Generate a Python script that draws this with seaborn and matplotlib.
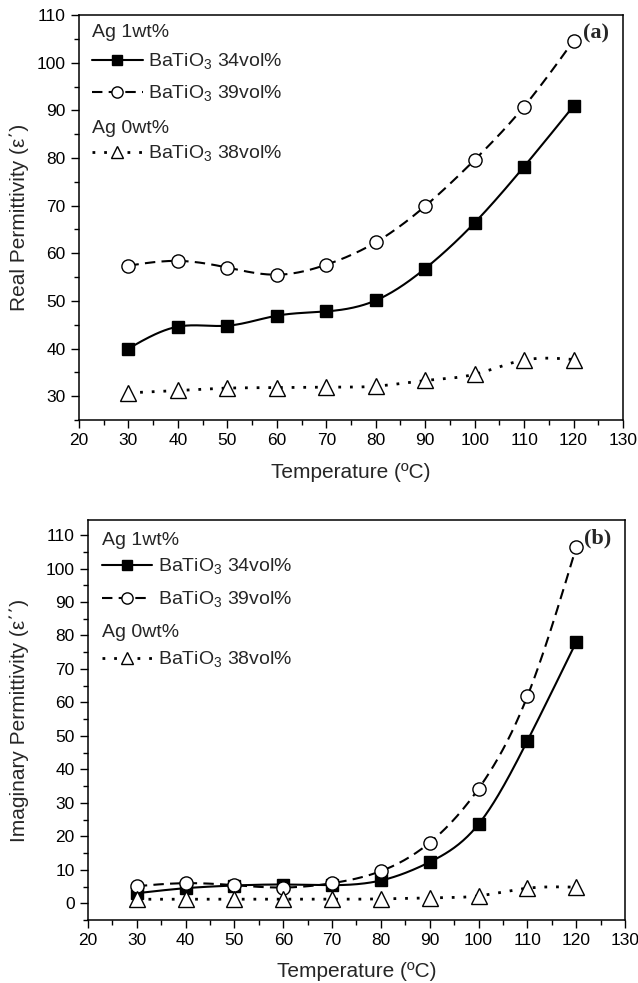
import numpy as np
import matplotlib
matplotlib.use('Agg')
import matplotlib.pyplot as plt
import seaborn as sns
from matplotlib.lines import Line2D
from matplotlib.legend import Legend
from matplotlib.ticker import MultipleLocator

# temperature (ºC)
temps = [30, 40, 50, 60, 70, 80, 90, 100, 110, 120]

# (a) real permittivity
real_34 = [40.0, 44.6, 44.8, 46.9, 47.8, 50.1, 56.8, 66.4, 78.2, 90.9]
real_39 = [57.4, 58.4, 57.0, 55.5, 57.6, 62.3, 69.9, 79.6, 90.8, 104.6]
real_38 = [30.7, 31.2, 31.7, 31.8, 31.9, 32.1, 33.3, 34.6, 37.6, 37.7]

# (b) imaginary permittivity
imag_34 = [3.0, 4.5, 5.3, 5.6, 5.4, 6.8, 12.3, 23.6, 48.5, 78.0]
imag_39 = [5.1, 6.0, 5.4, 4.7, 6.0, 9.6, 18.1, 34.2, 61.8, 106.3]
imag_38 = [1.2, 1.2, 1.2, 1.2, 1.2, 1.3, 1.6, 2.2, 4.5, 4.8]

lbl_34 = 'BaTiO$_3$ 34vol%'
lbl_39 = 'BaTiO$_3$ 39vol%'
lbl_38 = 'BaTiO$_3$ 38vol%'


def spline(x, y, n=300):
    # natural cubic spline, only used to draw the smooth connecting curve
    x = np.asarray(x, float)
    y = np.asarray(y, float)
    h = np.diff(x)
    m = len(x)
    A = np.zeros((m, m))
    r = np.zeros(m)
    A[0, 0] = A[-1, -1] = 1
    for i in range(1, m - 1):
        A[i, i - 1] = h[i - 1]
        A[i, i] = 2 * (h[i - 1] + h[i])
        A[i, i + 1] = h[i]
        r[i] = 3 * ((y[i + 1] - y[i]) / h[i] - (y[i] - y[i - 1]) / h[i - 1])
    c = np.linalg.solve(A, r)
    b = (y[1:] - y[:-1]) / h - h * (2 * c[:-1] + c[1:]) / 3
    d = (c[1:] - c[:-1]) / (3 * h)
    xs = np.linspace(x[0], x[-1], n)
    idx = np.clip(np.searchsorted(x, xs) - 1, 0, m - 2)
    dx = xs - x[idx]
    ys = y[idx] + b[idx] * dx + c[idx] * dx ** 2 + d[idx] * dx ** 3
    return xs, ys


sns.set_style('ticks')
plt.rcParams['font.family'] = ['Liberation Sans', 'DejaVu Sans']
plt.rcParams['mathtext.fontset'] = 'custom'
plt.rcParams['mathtext.rm'] = 'Liberation Sans'

styles = {
    '34': dict(ls='-', marker='s', mfc='black', ms=9),
    '39': dict(ls=(0, (5, 3)), marker='o', mfc='white', ms=9.5),
    '38': dict(ls=(0, (1, 3.2)), marker='^', mfc='white', ms=11),
}

fig = plt.figure(figsize=(6.38, 9.83), dpi=100)
ax_a = fig.add_axes([0.1238, 0.5727, 0.8527, 0.412])
ax_b = fig.add_axes([0.1379, 0.0641, 0.8417, 0.4069])


def draw(ax, series):
    for key, vals in series:
        st = styles[key]
        xs, ys = spline(temps, vals)
        lw = 2.0 if key == '38' else 1.5
        sns.lineplot(x=xs, y=ys, ax=ax, color='black', linestyle=st['ls'],
                     linewidth=lw, sort=False, zorder=2)
    for key, vals in series:
        st = styles[key]
        ax.plot(temps, vals, linestyle='none', marker=st['marker'],
                markersize=st['ms'], markerfacecolor=st['mfc'],
                markeredgecolor='black', markeredgewidth=1.0, zorder=3)


def legend_block(ax, ypos, xleft):
    fs = 14
    ax.text(xleft, ypos[0], 'Ag 1wt%', transform=ax.transAxes, fontsize=fs,
            ha='left', va='center')
    ax.text(xleft, ypos[3], 'Ag 0wt%', transform=ax.transAxes, fontsize=fs,
            ha='left', va='center')
    entries = [('34', lbl_34, ypos[1]), ('39', lbl_39, ypos[2]),
               ('38', lbl_38, ypos[4])]
    for key, lbl, y in entries:
        st = styles[key]
        lw = 2.0 if key == '38' else 1.5
        h = Line2D([], [], color='black', linestyle=st['ls'], linewidth=lw,
                   marker=st['marker'], markersize=st['ms'] * 0.85,
                   markerfacecolor=st['mfc'], markeredgecolor='black')
        leg = Legend(ax, [h], [lbl], loc='center left',
                     bbox_to_anchor=(xleft, y), bbox_transform=ax.transAxes,
                     frameon=False, fontsize=fs, handlelength=2.6,
                     handletextpad=0.3, borderpad=0, borderaxespad=0)
        ax.add_artist(leg)


def style_axes(ax, ylim, ylabel, yl_x, tag):
    ax.set_xlim(20, 130)
    ax.set_ylim(*ylim)
    ax.xaxis.set_major_locator(MultipleLocator(10))
    ax.xaxis.set_minor_locator(MultipleLocator(5))
    ax.yaxis.set_major_locator(MultipleLocator(10))
    ax.yaxis.set_minor_locator(MultipleLocator(5))
    ax.tick_params(which='both', direction='out', top=False, right=False,
                   width=1.0, colors='black', labelsize=12.5)
    ax.tick_params(which='major', length=6)
    ax.tick_params(which='minor', length=3.5)
    for sp in ax.spines.values():
        sp.set_linewidth(1.1)
        sp.set_color('black')
    ax.set_xlabel('Temperature (ºC)', fontsize=15)
    ax.set_ylabel(ylabel, fontsize=15)
    ax.xaxis.set_label_coords(0.5, -0.105)
    ax.yaxis.set_label_coords(yl_x, 0.5)
    ax.text(0.975, 0.955, tag, transform=ax.transAxes, ha='right',
            va='center', fontsize=16, fontweight='bold',
            family='Liberation Serif')


draw(ax_a, [('34', real_34), ('39', real_39), ('38', real_38)])
draw(ax_b, [('34', imag_34), ('39', imag_39), ('38', imag_38)])

style_axes(ax_a, (25, 110), 'Real Permittivity (ε΄)', -0.092, '(a)')
style_axes(ax_b, (-5, 114.5), 'Imaginary Permittivity (ε΄΄)', -0.11, '(b)')

legend_block(ax_a, [0.956, 0.884, 0.805, 0.721, 0.657], 0.024)
legend_block(ax_b, [0.950, 0.883, 0.800, 0.718, 0.650], 0.026)

fig.savefig('out.png', dpi=100)
